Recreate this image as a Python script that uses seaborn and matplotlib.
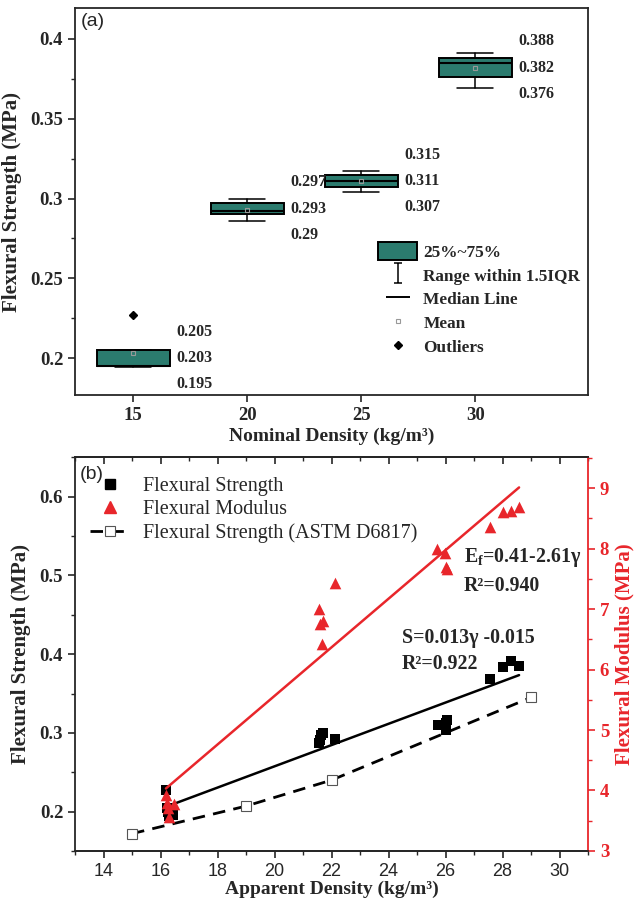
import numpy as np
import matplotlib
matplotlib.use("Agg")
import matplotlib.pyplot as plt
import seaborn as sns
from matplotlib.lines import Line2D
from matplotlib.patches import Patch
from matplotlib.path import Path
from matplotlib.ticker import MultipleLocator, FuncFormatter

# (a) box statistics per nominal density
nominal = [15, 20, 25, 30]
q1 = [0.195, 0.290, 0.307, 0.376]
median = [0.195, 0.292, 0.311, 0.385]
q3 = [0.205, 0.297, 0.315, 0.388]
mean = [0.203, 0.293, 0.311, 0.382]
whislo = [0.1945, 0.286, 0.304, 0.369]
whishi = [0.205, 0.300, 0.317, 0.391]
outliers = [[0.227], [], [], []]
label_hi = ["0.205", "0.297", "0.315", "0.388"]
label_mid = ["0.203", "0.293", "0.311", "0.382"]
label_lo = ["0.195", "0.29", "0.307", "0.376"]

# (b) measured values vs apparent density
fs_density = [16.19, 16.22, 16.25, 16.44, 16.30, 21.55, 21.64, 21.70, 21.60, 22.13,
              25.74, 26.00, 26.05, 26.02, 27.57, 28.00, 28.30, 28.58]
fs_value = [0.227, 0.204, 0.200, 0.196, 0.195, 0.287, 0.297, 0.300, 0.291, 0.292,
            0.310, 0.304, 0.316, 0.312, 0.369, 0.384, 0.391, 0.385]
fm_density = [16.19, 16.22, 16.25, 16.46, 16.30, 21.55, 21.60, 21.70, 21.66, 22.13,
              25.70, 25.99, 26.03, 26.05, 27.57, 28.00, 28.30, 28.58]
fm_value = [3.92, 3.79, 3.71, 3.78, 3.56, 7.00, 6.75, 6.81, 6.43, 7.43,
            8.00, 7.93, 7.70, 7.67, 8.36, 8.60, 8.62, 8.69]
astm_density = [15, 19, 22, 29]
astm_value = [0.172, 0.207, 0.240, 0.345]

teal = "#2b7b6e"
red = "#e8262b"

sns.set_style("ticks")
plt.rcParams["font.family"] = ["Liberation Serif", "DejaVu Serif"]
plt.rcParams["mathtext.fontset"] = "custom"
plt.rcParams["mathtext.rm"] = "Liberation Serif"
plt.rcParams["mathtext.bf"] = "Liberation Serif:bold"
plt.rcParams["axes.linewidth"] = 1.3

fig = plt.figure(figsize=(6.44, 9.05), dpi=100)
ax1 = fig.add_axes([0.1165, 0.5635, 0.7966, 0.4276])
ax = fig.add_axes([0.1165, 0.0597, 0.7966, 0.435])

fmt = FuncFormatter(lambda v, p: f"{v:g}")

# ---------------- panel (a)
stats = []
for i in range(len(nominal)):
    stats.append(dict(q1=q1[i], med=median[i], q3=q3[i], mean=mean[i],
                      whislo=whislo[i], whishi=whishi[i], fliers=outliers[i]))
ax1.bxp(stats, positions=nominal, widths=3.2, capwidths=1.6, patch_artist=True,
        showmeans=True, manage_ticks=False,
        boxprops=dict(facecolor=teal, edgecolor="k", linewidth=1.4),
        medianprops=dict(color="k", linewidth=1.5),
        whiskerprops=dict(color="k", linewidth=1.1),
        capprops=dict(color="k", linewidth=1.1),
        meanprops=dict(marker="s", markersize=3.5, markerfacecolor="none",
                       markeredgecolor="#999999", markeredgewidth=0.8),
        flierprops=dict(marker="D", markersize=4, markerfacecolor="k",
                        markeredgecolor="k"))

for i, x in enumerate(nominal):
    mid = (q1[i] + q3[i]) / 2
    for txt, dy in [(label_hi[i], 19), (label_mid[i], 0), (label_lo[i], -19)]:
        ax1.annotate(txt, xy=(x + 1.6, mid), xytext=(5, dy), textcoords="offset points",
                     ha="left", va="center", fontsize=11.5, fontweight="bold")

ax1.set_xlim(12.45, 34.95)
ax1.set_ylim(0.1768, 0.4194)
ax1.set_xticks(nominal)
ax1.yaxis.set_major_locator(MultipleLocator(0.05))
ax1.yaxis.set_minor_locator(MultipleLocator(0.025))
ax1.yaxis.set_major_formatter(fmt)
ax1.tick_params(axis="both", which="major", direction="out", length=5, width=1.2,
                labelsize=13.5)
ax1.tick_params(axis="y", which="minor", direction="out", length=3, width=1)
for lab in ax1.get_xticklabels() + ax1.get_yticklabels():
    lab.set_fontweight("bold")
ax1.set_xlabel("Nominal Density (kg/m³)", fontsize=14, fontweight="bold", labelpad=3)
ax1.set_ylabel("Flexural Strength (MPa)", fontsize=15, fontweight="bold", labelpad=6)
ax1.text(0.012, 0.988, "(a)", transform=ax1.transAxes, ha="left", va="top",
         fontsize=14, family="Liberation Sans")

ibeam = Path([(-0.35, 1), (0.35, 1), (0, 1), (0, -1), (-0.35, -1), (0.35, -1)],
             [Path.MOVETO, Path.LINETO, Path.MOVETO, Path.LINETO, Path.MOVETO, Path.LINETO])
handles_a = [
    Patch(facecolor=teal, edgecolor="k", linewidth=1.4),
    Line2D([], [], ls="none", marker=ibeam, markersize=15, markerfacecolor="none",
           markeredgecolor="k", markeredgewidth=1.1),
    Line2D([], [], ls="none", marker="_", markersize=17, markeredgewidth=1.4, color="k"),
    Line2D([], [], ls="none", marker="s", markersize=3.5, markerfacecolor="none",
           markeredgecolor="#999999", markeredgewidth=0.8),
    Line2D([], [], ls="none", marker="D", markersize=4, color="k"),
]
labels_a = ["25%~75%", "Range within 1.5IQR", "Median Line", "Mean", "Outliers"]
ax1.legend(handles_a, labels_a, loc="upper left", bbox_to_anchor=(0.59, 0.395),
           frameon=False, borderpad=0, borderaxespad=0, handlelength=2.3,
           handleheight=1.2, handletextpad=0.35, labelspacing=0.3,
           prop=dict(family="Liberation Serif", weight="bold", size=12.4))

# ---------------- panel (b)
ax2 = ax.twinx()

sns.regplot(x=fs_density, y=fs_value, ax=ax, scatter=False, ci=None, truncate=True,
            color="k", line_kws=dict(linewidth=1.8))
sns.scatterplot(x=fs_density, y=fs_value, ax=ax, marker="s", color="k", s=50,
                edgecolor="k", linewidth=0, zorder=3)
sns.lineplot(x=astm_density, y=astm_value, ax=ax, color="k", linewidth=2,
             linestyle=(0, (4.5, 3)), marker="s", markersize=6.5,
             markerfacecolor="white", markeredgecolor="#555555", markeredgewidth=0.8)

sns.regplot(x=fm_density, y=fm_value, ax=ax2, scatter=False, ci=None, truncate=True,
            color=red, line_kws=dict(linewidth=1.8))
sns.scatterplot(x=fm_density, y=fm_value, ax=ax2, marker="^", color=red, s=70,
                edgecolor=red, linewidth=0, zorder=3)

ax.set_xlim(13, 31)
ax.set_ylim(0.15, 0.65)
ax2.set_ylim(3, 9.51)

ax.xaxis.set_major_locator(MultipleLocator(2))
ax.xaxis.set_minor_locator(MultipleLocator(1))
ax.yaxis.set_major_locator(MultipleLocator(0.1))
ax.yaxis.set_minor_locator(MultipleLocator(0.05))
ax.yaxis.set_major_formatter(fmt)
ax.tick_params(axis="both", which="major", direction="out", length=5, width=1.2)
ax.tick_params(axis="both", which="minor", direction="out", length=3, width=1)
ax.tick_params(axis="x", labelsize=13)
ax.tick_params(axis="y", labelsize=13.5)
for lab in ax.get_xticklabels():
    lab.set_family("Liberation Sans")
for lab in ax.get_yticklabels():
    lab.set_fontweight("bold")

top = ax.secondary_xaxis("top")
top.xaxis.set_major_locator(MultipleLocator(2))
top.xaxis.set_minor_locator(MultipleLocator(1))
top.tick_params(axis="x", which="major", direction="in", length=5, width=1.2, labeltop=False)
top.tick_params(axis="x", which="minor", direction="in", length=3, width=1)

ax2.yaxis.set_major_locator(MultipleLocator(1))
ax2.yaxis.set_minor_locator(MultipleLocator(0.5))
ax2.tick_params(axis="y", which="major", direction="out", length=5, width=1.2,
                colors=red, labelsize=13.5)
ax2.tick_params(axis="y", which="minor", direction="out", length=3, width=1, colors=red)
for lab in ax2.get_yticklabels():
    lab.set_fontweight("bold")
ax2.spines["right"].set_color(red)
ax2.spines["left"].set_visible(False)
ax.spines["right"].set_visible(False)

ax.set_xlabel("Apparent Density (kg/m³)", fontsize=14, fontweight="bold", labelpad=1)
ax.set_ylabel("Flexural Strength (MPa)", fontsize=15, fontweight="bold", labelpad=6)
ax2.set_ylabel("Flexural Modulus (MPa)", fontsize=15, fontweight="bold", color=red,
               labelpad=4)

ax.text(0.01, 0.977, "(b)", transform=ax.transAxes, ha="left", va="top",
        fontsize=14, family="Liberation Sans")

ax2.text(0.758, 0.745, r"$\mathbf{E}_{\mathbf{f}}$=0.41-2.61γ", transform=ax.transAxes,
         ha="left", va="center", fontsize=14.3, fontweight="bold")
ax2.text(0.758, 0.672, "R²=0.940", transform=ax.transAxes,
         ha="left", va="center", fontsize=14.3, fontweight="bold")
ax2.text(0.637, 0.540, "S=0.013γ -0.015", transform=ax.transAxes,
         ha="left", va="center", fontsize=14.3, fontweight="bold")
ax2.text(0.637, 0.474, "R²=0.922", transform=ax.transAxes,
         ha="left", va="center", fontsize=14.3, fontweight="bold")

handles_b = [
    Line2D([], [], ls="none", marker="s", markersize=6.5, color="k"),
    Line2D([], [], ls="none", marker="^", markersize=8.5, color=red),
    Line2D([], [], color="k", linewidth=2, linestyle=(0, (4.5, 3)), marker="s",
           markersize=6.5, markerfacecolor="white", markeredgecolor="#555555",
           markeredgewidth=0.8),
]
labels_b = ["Flexural Strength", "Flexural Modulus", "Flexural Strength (ASTM D6817)"]
ax2.legend(handles_b, labels_b, loc="upper left", bbox_to_anchor=(0.029, 0.95),
           frameon=False, borderpad=0, borderaxespad=0, handlelength=2.0,
           handletextpad=0.65, labelspacing=0.2,
           prop=dict(family="Liberation Serif", size=14.5))

fig.savefig("out.png", dpi=100)
